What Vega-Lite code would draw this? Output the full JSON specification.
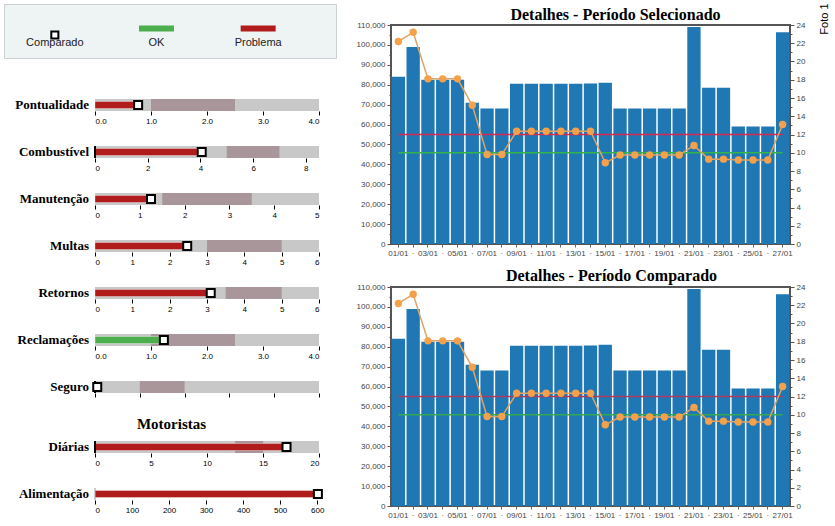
{
  "$schema": "https://vega.github.io/schema/vega-lite/v6.json",
  "background": "white",
  "padding": {"left": 3, "top": 3, "right": 0, "bottom": 0},
  "title": {"text": "Foto 1", "orient": "right", "angle": -90, "anchor": "start", "align": "right", "fontSize": 11, "font": "Liberation Sans", "fontWeight": "normal", "color": "#000", "offset": 6, "dy": -4},
  "datasets": {
    "legenda": [
      {"item": "Comparado"},
      {"item": "OK"},
      {"item": "Problema"}
    ],
    "titulos": [
      {"painel": "selecionado", "titulo": "Detalhes - Período Selecionado"},
      {"painel": "comparado", "titulo": "Detalhes - Período Comparado"}
    ],
    "indicadores": [
      {"indicador": "Pontualidade", "faixa_ini": 0, "faixa_fim": 4, "alerta_ini": 1, "alerta_fim": 2.5, "valor": 0.7, "comparado": 0.77, "status": "Problema"},
      {"indicador": "Combustível", "faixa_ini": 0, "faixa_fim": 8.5, "alerta_ini": 5, "alerta_fim": 7, "valor": 3.95, "comparado": 4.05, "status": "Problema"},
      {"indicador": "Manutenção", "faixa_ini": 0, "faixa_fim": 5, "alerta_ini": 1.5, "alerta_fim": 3.5, "valor": 1.18, "comparado": 1.25, "status": "Problema"},
      {"indicador": "Multas", "faixa_ini": 0, "faixa_fim": 6, "alerta_ini": 3, "alerta_fim": 5, "valor": 2.4, "comparado": 2.47, "status": "Problema"},
      {"indicador": "Retornos", "faixa_ini": 0, "faixa_fim": 6, "alerta_ini": 3.5, "alerta_fim": 5, "valor": 3.03, "comparado": 3.1, "status": "Problema"},
      {"indicador": "Reclamações", "faixa_ini": 0, "faixa_fim": 4, "alerta_ini": 1, "alerta_fim": 2.5, "valor": 1.16, "comparado": 1.23, "status": "OK"},
      {"indicador": "Seguro", "faixa_ini": 0, "faixa_fim": 5, "alerta_ini": 1, "alerta_fim": 2, "valor": 0, "comparado": 0.05, "status": "Problema"},
      {"indicador": "Diárias", "faixa_ini": 0, "faixa_fim": 20, "alerta_ini": 12.5, "alerta_fim": 15, "valor": 16.8, "comparado": 17.1, "status": "Problema"},
      {"indicador": "Alimentação", "faixa_ini": null, "faixa_fim": null, "alerta_ini": null, "alerta_fim": null, "valor": 599, "comparado": 602, "status": "Problema"}
    ],
    "diario": [
      {"dia": "01/01", "valor": 84000, "indice": 22.2, "limite": 12, "meta": 10},
      {"dia": "02/01", "valor": 99000, "indice": 23.2, "limite": 12, "meta": 10},
      {"dia": "03/01", "valor": 82500, "indice": 18.1, "limite": 12, "meta": 10},
      {"dia": "04/01", "valor": 82500, "indice": 18.1, "limite": 12, "meta": 10},
      {"dia": "05/01", "valor": 82500, "indice": 18.1, "limite": 12, "meta": 10},
      {"dia": "06/01", "valor": 71000, "indice": 15.2, "limite": 12, "meta": 10},
      {"dia": "07/01", "valor": 68000, "indice": 9.8, "limite": 12, "meta": 10},
      {"dia": "08/01", "valor": 68000, "indice": 9.8, "limite": 12, "meta": 10},
      {"dia": "09/01", "valor": 80500, "indice": 12.35, "limite": 12, "meta": 10},
      {"dia": "10/01", "valor": 80500, "indice": 12.35, "limite": 12, "meta": 10},
      {"dia": "11/01", "valor": 80500, "indice": 12.35, "limite": 12, "meta": 10},
      {"dia": "12/01", "valor": 80500, "indice": 12.35, "limite": 12, "meta": 10},
      {"dia": "13/01", "valor": 80500, "indice": 12.35, "limite": 12, "meta": 10},
      {"dia": "14/01", "valor": 80600, "indice": 12.35, "limite": 12, "meta": 10},
      {"dia": "15/01", "valor": 81000, "indice": 8.9, "limite": 12, "meta": 10},
      {"dia": "16/01", "valor": 68000, "indice": 9.75, "limite": 12, "meta": 10},
      {"dia": "17/01", "valor": 68000, "indice": 9.75, "limite": 12, "meta": 10},
      {"dia": "18/01", "valor": 68000, "indice": 9.75, "limite": 12, "meta": 10},
      {"dia": "19/01", "valor": 68000, "indice": 9.75, "limite": 12, "meta": 10},
      {"dia": "20/01", "valor": 68000, "indice": 9.75, "limite": 12, "meta": 10},
      {"dia": "21/01", "valor": 109000, "indice": 10.8, "limite": 12, "meta": 10},
      {"dia": "22/01", "valor": 78500, "indice": 9.3, "limite": 12, "meta": 10},
      {"dia": "23/01", "valor": 78500, "indice": 9.3, "limite": 12, "meta": 10},
      {"dia": "24/01", "valor": 59000, "indice": 9.2, "limite": 12, "meta": 10},
      {"dia": "25/01", "valor": 59000, "indice": 9.2, "limite": 12, "meta": 10},
      {"dia": "26/01", "valor": 59000, "indice": 9.2, "limite": 12, "meta": 10},
      {"dia": "27/01", "valor": 106300, "indice": 13.1, "limite": 12, "meta": 10}
    ]
  },
  "config": {
    "view": {"stroke": null},
    "font": "Liberation Sans",
    "axis": {"labelOverlap": false, "labelSeparation": 0},
    "axisY": {"labelOverlap": false},
    "axisRight": {"labelOverlap": false, "labelBound": false},
    "axisX": {"domain": false, "tickColor": "#000", "tickSize": 4, "tickWidth": 1, "labelFontSize": 8, "labelColor": "#000", "labelPadding": 2, "grid": false, "labelFont": "Liberation Sans"}
  },
  "spacing": 9,
  "hconcat": [
    {
      "spacing": 38,
      "vconcat": [
        {
          "width": 332, "height": 54,
          "data": {"name": "legenda"},
          "view": {"fill": "#eef3f4", "stroke": "#c8d0d2"},
          "encoding": {"x": {"field": "item", "type": "nominal", "sort": null, "axis": null, "scale": {"range": [0, 305], "paddingInner": 0, "paddingOuter": 0}}},
          "layer": [
            {"transform": [{"filter": "datum.item === 'Comparado'"}], "mark": {"type": "point", "shape": "square", "filled": true, "fill": "white", "stroke": "black", "strokeWidth": 2, "size": 50, "opacity": 1, "yOffset": 4}},
            {"transform": [{"filter": "datum.item !== 'Comparado'"}], "mark": {"type": "point", "shape": "M-1,-0.17H1V0.17H-1Z", "filled": true, "size": 1225, "opacity": 1, "yOffset": -2.5, "strokeWidth": 0},
             "encoding": {"color": {"field": "item", "type": "nominal", "scale": {"domain": ["OK", "Problema"], "range": ["#4cae4c", "#b01c1c"]}, "legend": null}}},
            {"mark": {"type": "text", "yOffset": 12, "fontSize": 11, "font": "Liberation Sans", "color": "#222"}, "encoding": {"text": {"field": "item"}}}
          ]
        },
        {
          "spacing": 19,
          "vconcat": [
            {
              "width": 315, "height": 12, "data": {"name": "indicadores"},
              "transform": [{"filter": "datum.indicador === 'Pontualidade'"}],
              "layer": [
                {"mark": {"type": "bar", "color": "#c8c8c8"}, "encoding": {"y": {"field": "indicador", "type": "nominal", "axis": null, "scale": {"paddingInner": 0, "paddingOuter": 0}}, "x": {"field": "faixa_ini", "type": "quantitative", "title": null, "scale": {"domain": [0, 4], "nice": false, "range": [91, 315]}, "axis": {"values": [0, 0.5, 1, 1.5, 2, 2.5, 3, 3.5, 4], "format": ".1f"}}, "x2": {"field": "faixa_fim"}}},
                {"mark": {"type": "bar", "color": "#a8969a"}, "encoding": {"y": {"field": "indicador", "type": "nominal"}, "x": {"field": "alerta_ini", "type": "quantitative", "title": null}, "x2": {"field": "alerta_fim"}}},
                {"mark": {"type": "bar", "height": 7, "stroke": "white", "strokeOpacity": 0.35, "strokeWidth": 1}, "encoding": {"y": {"field": "indicador", "type": "nominal"}, "x": {"field": "valor", "type": "quantitative", "title": null}, "color": {"field": "status", "type": "nominal", "scale": {"domain": ["OK", "Problema"], "range": ["#4cae4c", "#b01c1c"]}, "legend": null}}},
                {"mark": {"type": "point", "shape": "square", "filled": true, "fill": "white", "stroke": "black", "strokeWidth": 2, "size": 64, "opacity": 1}, "encoding": {"y": {"field": "indicador", "type": "nominal"}, "x": {"field": "comparado", "type": "quantitative", "title": null}}},
                {"mark": {"type": "text", "align": "right", "dx": -6, "font": "Liberation Serif", "fontWeight": "bold", "fontSize": 13, "color": "#000"}, "encoding": {"y": {"field": "indicador", "type": "nominal"}, "x": {"datum": 0}, "text": {"field": "indicador"}}}
              ]
            },
            {
              "width": 315, "height": 12, "data": {"name": "indicadores"},
              "transform": [{"filter": "datum.indicador === 'Combustível'"}],
              "layer": [
                {"mark": {"type": "bar", "color": "#c8c8c8"}, "encoding": {"y": {"field": "indicador", "type": "nominal", "axis": null, "scale": {"paddingInner": 0, "paddingOuter": 0}}, "x": {"field": "faixa_ini", "type": "quantitative", "title": null, "scale": {"domain": [0, 8.5], "nice": false, "range": [91, 315]}, "axis": {"values": [0, 1, 2, 3, 4, 5, 6, 7, 8], "format": "d"}}, "x2": {"field": "faixa_fim"}}},
                {"mark": {"type": "bar", "color": "#a8969a"}, "encoding": {"y": {"field": "indicador", "type": "nominal"}, "x": {"field": "alerta_ini", "type": "quantitative", "title": null}, "x2": {"field": "alerta_fim"}}},
                {"mark": {"type": "bar", "height": 7, "stroke": "white", "strokeOpacity": 0.35, "strokeWidth": 1}, "encoding": {"y": {"field": "indicador", "type": "nominal"}, "x": {"field": "valor", "type": "quantitative", "title": null}, "color": {"field": "status", "type": "nominal", "scale": {"domain": ["OK", "Problema"], "range": ["#4cae4c", "#b01c1c"]}, "legend": null}}},
                {"mark": {"type": "rule", "color": "#000", "strokeWidth": 2}, "encoding": {"x": {"datum": 0}}},
                {"mark": {"type": "point", "shape": "square", "filled": true, "fill": "white", "stroke": "black", "strokeWidth": 2, "size": 64, "opacity": 1}, "encoding": {"y": {"field": "indicador", "type": "nominal"}, "x": {"field": "comparado", "type": "quantitative", "title": null}}},
                {"mark": {"type": "text", "align": "right", "dx": -6, "font": "Liberation Serif", "fontWeight": "bold", "fontSize": 13, "color": "#000"}, "encoding": {"y": {"field": "indicador", "type": "nominal"}, "x": {"datum": 0}, "text": {"field": "indicador"}}}
              ]
            },
            {
              "width": 315, "height": 12, "data": {"name": "indicadores"},
              "transform": [{"filter": "datum.indicador === 'Manutenção'"}],
              "layer": [
                {"mark": {"type": "bar", "color": "#c8c8c8"}, "encoding": {"y": {"field": "indicador", "type": "nominal", "axis": null, "scale": {"paddingInner": 0, "paddingOuter": 0}}, "x": {"field": "faixa_ini", "type": "quantitative", "title": null, "scale": {"domain": [0, 5], "nice": false, "range": [91, 315]}, "axis": {"values": [0, 1, 2, 3, 4, 5], "format": "d"}}, "x2": {"field": "faixa_fim"}}},
                {"mark": {"type": "bar", "color": "#a8969a"}, "encoding": {"y": {"field": "indicador", "type": "nominal"}, "x": {"field": "alerta_ini", "type": "quantitative", "title": null}, "x2": {"field": "alerta_fim"}}},
                {"mark": {"type": "bar", "height": 7, "stroke": "white", "strokeOpacity": 0.35, "strokeWidth": 1}, "encoding": {"y": {"field": "indicador", "type": "nominal"}, "x": {"field": "valor", "type": "quantitative", "title": null}, "color": {"field": "status", "type": "nominal", "scale": {"domain": ["OK", "Problema"], "range": ["#4cae4c", "#b01c1c"]}, "legend": null}}},
                {"mark": {"type": "point", "shape": "square", "filled": true, "fill": "white", "stroke": "black", "strokeWidth": 2, "size": 64, "opacity": 1}, "encoding": {"y": {"field": "indicador", "type": "nominal"}, "x": {"field": "comparado", "type": "quantitative", "title": null}}},
                {"mark": {"type": "text", "align": "right", "dx": -6, "font": "Liberation Serif", "fontWeight": "bold", "fontSize": 13, "color": "#000"}, "encoding": {"y": {"field": "indicador", "type": "nominal"}, "x": {"datum": 0}, "text": {"field": "indicador"}}}
              ]
            },
            {
              "width": 315, "height": 12, "data": {"name": "indicadores"},
              "transform": [{"filter": "datum.indicador === 'Multas'"}],
              "layer": [
                {"mark": {"type": "bar", "color": "#c8c8c8"}, "encoding": {"y": {"field": "indicador", "type": "nominal", "axis": null, "scale": {"paddingInner": 0, "paddingOuter": 0}}, "x": {"field": "faixa_ini", "type": "quantitative", "title": null, "scale": {"domain": [0, 6], "nice": false, "range": [91, 315]}, "axis": {"values": [0, 1, 2, 3, 4, 5, 6], "format": "d"}}, "x2": {"field": "faixa_fim"}}},
                {"mark": {"type": "bar", "color": "#a8969a"}, "encoding": {"y": {"field": "indicador", "type": "nominal"}, "x": {"field": "alerta_ini", "type": "quantitative", "title": null}, "x2": {"field": "alerta_fim"}}},
                {"mark": {"type": "bar", "height": 7, "stroke": "white", "strokeOpacity": 0.35, "strokeWidth": 1}, "encoding": {"y": {"field": "indicador", "type": "nominal"}, "x": {"field": "valor", "type": "quantitative", "title": null}, "color": {"field": "status", "type": "nominal", "scale": {"domain": ["OK", "Problema"], "range": ["#4cae4c", "#b01c1c"]}, "legend": null}}},
                {"mark": {"type": "point", "shape": "square", "filled": true, "fill": "white", "stroke": "black", "strokeWidth": 2, "size": 64, "opacity": 1}, "encoding": {"y": {"field": "indicador", "type": "nominal"}, "x": {"field": "comparado", "type": "quantitative", "title": null}}},
                {"mark": {"type": "text", "align": "right", "dx": -6, "font": "Liberation Serif", "fontWeight": "bold", "fontSize": 13, "color": "#000"}, "encoding": {"y": {"field": "indicador", "type": "nominal"}, "x": {"datum": 0}, "text": {"field": "indicador"}}}
              ]
            },
            {
              "width": 315, "height": 12, "data": {"name": "indicadores"},
              "transform": [{"filter": "datum.indicador === 'Retornos'"}],
              "layer": [
                {"mark": {"type": "bar", "color": "#c8c8c8"}, "encoding": {"y": {"field": "indicador", "type": "nominal", "axis": null, "scale": {"paddingInner": 0, "paddingOuter": 0}}, "x": {"field": "faixa_ini", "type": "quantitative", "title": null, "scale": {"domain": [0, 6], "nice": false, "range": [91, 315]}, "axis": {"values": [0, 1, 2, 3, 4, 5, 6], "format": "d"}}, "x2": {"field": "faixa_fim"}}},
                {"mark": {"type": "bar", "color": "#a8969a"}, "encoding": {"y": {"field": "indicador", "type": "nominal"}, "x": {"field": "alerta_ini", "type": "quantitative", "title": null}, "x2": {"field": "alerta_fim"}}},
                {"mark": {"type": "bar", "height": 7, "stroke": "white", "strokeOpacity": 0.35, "strokeWidth": 1}, "encoding": {"y": {"field": "indicador", "type": "nominal"}, "x": {"field": "valor", "type": "quantitative", "title": null}, "color": {"field": "status", "type": "nominal", "scale": {"domain": ["OK", "Problema"], "range": ["#4cae4c", "#b01c1c"]}, "legend": null}}},
                {"mark": {"type": "point", "shape": "square", "filled": true, "fill": "white", "stroke": "black", "strokeWidth": 2, "size": 64, "opacity": 1}, "encoding": {"y": {"field": "indicador", "type": "nominal"}, "x": {"field": "comparado", "type": "quantitative", "title": null}}},
                {"mark": {"type": "text", "align": "right", "dx": -6, "font": "Liberation Serif", "fontWeight": "bold", "fontSize": 13, "color": "#000"}, "encoding": {"y": {"field": "indicador", "type": "nominal"}, "x": {"datum": 0}, "text": {"field": "indicador"}}}
              ]
            },
            {
              "width": 315, "height": 12, "data": {"name": "indicadores"},
              "transform": [{"filter": "datum.indicador === 'Reclamações'"}],
              "layer": [
                {"mark": {"type": "bar", "color": "#c8c8c8"}, "encoding": {"y": {"field": "indicador", "type": "nominal", "axis": null, "scale": {"paddingInner": 0, "paddingOuter": 0}}, "x": {"field": "faixa_ini", "type": "quantitative", "title": null, "scale": {"domain": [0, 4], "nice": false, "range": [91, 315]}, "axis": {"values": [0, 0.5, 1, 1.5, 2, 2.5, 3, 3.5, 4], "format": ".1f"}}, "x2": {"field": "faixa_fim"}}},
                {"mark": {"type": "bar", "color": "#a8969a"}, "encoding": {"y": {"field": "indicador", "type": "nominal"}, "x": {"field": "alerta_ini", "type": "quantitative", "title": null}, "x2": {"field": "alerta_fim"}}},
                {"mark": {"type": "bar", "height": 7, "stroke": "white", "strokeOpacity": 0.35, "strokeWidth": 1}, "encoding": {"y": {"field": "indicador", "type": "nominal"}, "x": {"field": "valor", "type": "quantitative", "title": null}, "color": {"field": "status", "type": "nominal", "scale": {"domain": ["OK", "Problema"], "range": ["#4cae4c", "#b01c1c"]}, "legend": null}}},
                {"mark": {"type": "point", "shape": "square", "filled": true, "fill": "white", "stroke": "black", "strokeWidth": 2, "size": 64, "opacity": 1}, "encoding": {"y": {"field": "indicador", "type": "nominal"}, "x": {"field": "comparado", "type": "quantitative", "title": null}}},
                {"mark": {"type": "text", "align": "right", "dx": -6, "font": "Liberation Serif", "fontWeight": "bold", "fontSize": 13, "color": "#000"}, "encoding": {"y": {"field": "indicador", "type": "nominal"}, "x": {"datum": 0}, "text": {"field": "indicador"}}}
              ]
            },
            {
              "width": 315, "height": 12, "data": {"name": "indicadores"},
              "transform": [{"filter": "datum.indicador === 'Seguro'"}],
              "layer": [
                {"mark": {"type": "bar", "color": "#c8c8c8"}, "encoding": {"y": {"field": "indicador", "type": "nominal", "axis": null, "scale": {"paddingInner": 0, "paddingOuter": 0}}, "x": {"field": "faixa_ini", "type": "quantitative", "title": null, "scale": {"domain": [0, 5], "nice": false, "range": [91, 315]}, "axis": {"values": [0, 1, 2, 3, 4, 5], "labels": false}}, "x2": {"field": "faixa_fim"}}},
                {"mark": {"type": "bar", "color": "#a8969a"}, "encoding": {"y": {"field": "indicador", "type": "nominal"}, "x": {"field": "alerta_ini", "type": "quantitative", "title": null}, "x2": {"field": "alerta_fim"}}},
                {"mark": {"type": "bar", "height": 7, "stroke": "white", "strokeOpacity": 0.35, "strokeWidth": 1}, "encoding": {"y": {"field": "indicador", "type": "nominal"}, "x": {"field": "valor", "type": "quantitative", "title": null}, "color": {"field": "status", "type": "nominal", "scale": {"domain": ["OK", "Problema"], "range": ["#4cae4c", "#b01c1c"]}, "legend": null}}},
                {"mark": {"type": "rule", "color": "#000", "strokeWidth": 2}, "encoding": {"x": {"datum": 0}}},
                {"mark": {"type": "point", "shape": "square", "filled": true, "fill": "white", "stroke": "black", "strokeWidth": 2, "size": 64, "opacity": 1}, "encoding": {"y": {"field": "indicador", "type": "nominal"}, "x": {"field": "comparado", "type": "quantitative", "title": null}}},
                {"mark": {"type": "text", "align": "right", "dx": -6, "font": "Liberation Serif", "fontWeight": "bold", "fontSize": 13, "color": "#000"}, "encoding": {"y": {"field": "indicador", "type": "nominal"}, "x": {"datum": 0}, "text": {"field": "indicador"}}}
              ]
            },
            {
              "width": 315, "height": 12, "data": {"name": "indicadores"},
              "title": {"text": "Motoristas", "font": "Liberation Serif", "fontSize": 15, "fontWeight": "bold", "color": "#000", "anchor": "middle", "frame": "group", "offset": 7, "dx": 10},
              "transform": [{"filter": "datum.indicador === 'Diárias'"}],
              "layer": [
                {"mark": {"type": "bar", "color": "#c8c8c8"}, "encoding": {"y": {"field": "indicador", "type": "nominal", "axis": null, "scale": {"paddingInner": 0, "paddingOuter": 0}}, "x": {"field": "faixa_ini", "type": "quantitative", "title": null, "scale": {"domain": [0, 20], "nice": false, "range": [91, 315]}, "axis": {"values": [0, 5, 10, 15, 20], "format": "d"}}, "x2": {"field": "faixa_fim"}}},
                {"mark": {"type": "bar", "color": "#a8969a"}, "encoding": {"y": {"field": "indicador", "type": "nominal"}, "x": {"field": "alerta_ini", "type": "quantitative", "title": null}, "x2": {"field": "alerta_fim"}}},
                {"mark": {"type": "bar", "height": 7, "stroke": "white", "strokeOpacity": 0.35, "strokeWidth": 1}, "encoding": {"y": {"field": "indicador", "type": "nominal"}, "x": {"field": "valor", "type": "quantitative", "title": null}, "color": {"field": "status", "type": "nominal", "scale": {"domain": ["OK", "Problema"], "range": ["#4cae4c", "#b01c1c"]}, "legend": null}}},
                {"mark": {"type": "rule", "color": "#000", "strokeWidth": 2}, "encoding": {"x": {"datum": 0}}},
                {"mark": {"type": "point", "shape": "square", "filled": true, "fill": "white", "stroke": "black", "strokeWidth": 2, "size": 64, "opacity": 1}, "encoding": {"y": {"field": "indicador", "type": "nominal"}, "x": {"field": "comparado", "type": "quantitative", "title": null}}},
                {"mark": {"type": "text", "align": "right", "dx": -6, "font": "Liberation Serif", "fontWeight": "bold", "fontSize": 13, "color": "#000"}, "encoding": {"y": {"field": "indicador", "type": "nominal"}, "x": {"datum": 0}, "text": {"field": "indicador"}}}
              ]
            },
            {
              "width": 315, "height": 12, "data": {"name": "indicadores"},
              "transform": [{"filter": "datum.indicador === 'Alimentação'"}],
              "layer": [
                {"mark": {"type": "bar", "height": 7, "stroke": "white", "strokeOpacity": 0.35, "strokeWidth": 1}, "encoding": {"y": {"field": "indicador", "type": "nominal", "axis": null, "scale": {"paddingInner": 0, "paddingOuter": 0}}, "x": {"field": "valor", "type": "quantitative", "title": null, "scale": {"domain": [0, 605], "nice": false, "range": [91, 315]}, "axis": {"values": [0, 100, 200, 300, 400, 500, 600], "format": "d"}}, "color": {"field": "status", "type": "nominal", "scale": {"domain": ["OK", "Problema"], "range": ["#4cae4c", "#b01c1c"]}, "legend": null}}},
                {"mark": {"type": "rule", "color": "#999", "strokeWidth": 1}, "encoding": {"x": {"datum": 0}}},
                {"mark": {"type": "point", "shape": "square", "filled": true, "fill": "white", "stroke": "black", "strokeWidth": 2, "size": 64, "opacity": 1}, "encoding": {"y": {"field": "indicador", "type": "nominal"}, "x": {"field": "comparado", "type": "quantitative", "title": null}}},
                {"mark": {"type": "text", "align": "right", "dx": -6, "font": "Liberation Serif", "fontWeight": "bold", "fontSize": 13, "color": "#000"}, "encoding": {"y": {"field": "indicador", "type": "nominal"}, "x": {"datum": 0}, "text": {"field": "indicador"}}}
              ]
            }
          ]
        }
      ]
    },
    {
      "spacing": 7,
      "vconcat": [
        {
          "spacing": -3,
          "vconcat": [
            {
              "width": 399, "height": 11,
              "data": {"name": "titulos"},
              "transform": [{"filter": "datum.painel === 'selecionado'"}],
              "mark": {"type": "text", "font": "Liberation Serif", "fontSize": 16, "fontWeight": "bold", "color": "#000", "dx": 25, "dy": 5},
              "encoding": {"text": {"field": "titulo"}}
            },
            {
              "width": 399, "height": 219,
              "view": {"stroke": "#555", "strokeWidth": 2},
              "data": {"name": "diario"},
              "encoding": {"x": {"field": "dia", "type": "ordinal", "title": null, "scale": {"paddingInner": 0.1, "paddingOuter": 0.05},
                "axis": {"labelAngle": 0, "labelOverlap": false, "tickSize": 3, "tickColor": "#666", "labelColor": "#444", "labelFontSize": 8, "labelPadding": 2, "domain": false,
                         "labelExpr": "toNumber(substring(datum.value, 0, 2)) % 2 === 1 ? datum.value : '·'"}}},
              "layer": [
                {"mark": {"type": "bar", "color": "#1f77b4"},
                 "encoding": {"y": {"field": "valor", "type": "quantitative", "title": null, "scale": {"domain": [0, 110000], "nice": false},
                   "axis": {"orient": "left", "values": [0, 5000, 10000, 15000, 20000, 25000, 30000, 35000, 40000, 45000, 50000, 55000, 60000, 65000, 70000, 75000, 80000, 85000, 90000, 95000, 100000, 105000, 110000],
                            "labelOverlap": false, "labelExpr": "datum.value % 10000 === 0 ? format(datum.value, ',') : ''", "tickSize": {"condition": {"test": "datum.value % 10000 === 0", "value": 4}, "value": 2},
                            "domain": false, "grid": false, "labelFontSize": 8, "labelColor": "#444", "tickColor": "#555", "labelPadding": 2, "minExtent": 44, "maxExtent": 44}}}},
                {"layer": [
                  {"mark": {"type": "line", "color": "#d6284c", "strokeWidth": 1.5},
                   "encoding": {"y": {"field": "limite", "type": "quantitative", "title": null, "scale": {"domain": [0, 24], "nice": false},
                     "axis": {"orient": "right", "values": [0, 1, 2, 3, 4, 5, 6, 7, 8, 9, 10, 11, 12, 13, 14, 15, 16, 17, 18, 19, 20, 21, 22, 23, 24], "labelExpr": "datum.value % 2 === 0 ? format(datum.value, 'd') : ''", "tickSize": {"condition": {"test": "datum.value % 2 === 0", "value": 4}, "value": 2}, "labelOverlap": false, "domain": false, "grid": false, "labelFontSize": 8, "labelColor": "#444", "tickColor": "#555", "labelPadding": 2}}}},
                  {"mark": {"type": "line", "color": "#33b34a", "strokeWidth": 1.5},
                   "encoding": {"y": {"field": "meta", "type": "quantitative", "title": null,
                     "axis": {"orient": "right", "values": [0, 1, 2, 3, 4, 5, 6, 7, 8, 9, 10, 11, 12, 13, 14, 15, 16, 17, 18, 19, 20, 21, 22, 23, 24], "labelExpr": "datum.value % 2 === 0 ? format(datum.value, 'd') : ''", "tickSize": {"condition": {"test": "datum.value % 2 === 0", "value": 4}, "value": 2}, "labelOverlap": false, "domain": false, "grid": false, "labelFontSize": 8, "labelColor": "#444", "tickColor": "#555", "labelPadding": 2}}}},
                  {"mark": {"type": "line", "color": "#e0a366", "strokeWidth": 1.5},
                   "encoding": {"y": {"field": "indice", "type": "quantitative", "title": null,
                     "axis": {"orient": "right", "values": [0, 1, 2, 3, 4, 5, 6, 7, 8, 9, 10, 11, 12, 13, 14, 15, 16, 17, 18, 19, 20, 21, 22, 23, 24], "labelExpr": "datum.value % 2 === 0 ? format(datum.value, 'd') : ''", "tickSize": {"condition": {"test": "datum.value % 2 === 0", "value": 4}, "value": 2}, "labelOverlap": false, "domain": false, "grid": false, "labelFontSize": 8, "labelColor": "#444", "tickColor": "#555", "labelPadding": 2}}}},
                  {"mark": {"type": "point", "filled": true, "color": "#f5a04a", "size": 55, "opacity": 1},
                   "encoding": {"y": {"field": "indice", "type": "quantitative", "title": null,
                     "axis": {"orient": "right", "values": [0, 1, 2, 3, 4, 5, 6, 7, 8, 9, 10, 11, 12, 13, 14, 15, 16, 17, 18, 19, 20, 21, 22, 23, 24], "labelExpr": "datum.value % 2 === 0 ? format(datum.value, 'd') : ''", "tickSize": {"condition": {"test": "datum.value % 2 === 0", "value": 4}, "value": 2}, "labelOverlap": false, "domain": false, "grid": false, "labelFontSize": 8, "labelColor": "#444", "tickColor": "#555", "labelPadding": 2}}}}
                ]}
              ],
              "resolve": {"scale": {"y": "independent"}}
            }
          ]
        },
        {
          "spacing": -2,
          "vconcat": [
            {
              "width": 399, "height": 13,
              "data": {"name": "titulos"},
              "transform": [{"filter": "datum.painel === 'comparado'"}],
              "mark": {"type": "text", "font": "Liberation Serif", "fontSize": 16, "fontWeight": "bold", "color": "#000", "dx": 21, "dy": 4},
              "encoding": {"text": {"field": "titulo"}}
            },
            {
              "width": 399, "height": 219,
              "view": {"stroke": "#555", "strokeWidth": 2},
              "data": {"name": "diario"},
              "encoding": {"x": {"field": "dia", "type": "ordinal", "title": null, "scale": {"paddingInner": 0.1, "paddingOuter": 0.05},
                "axis": {"labelAngle": 0, "labelOverlap": false, "tickSize": 3, "tickColor": "#666", "labelColor": "#444", "labelFontSize": 8, "labelPadding": 2, "domain": false,
                         "labelExpr": "toNumber(substring(datum.value, 0, 2)) % 2 === 1 ? datum.value : '·'"}}},
              "layer": [
                {"mark": {"type": "bar", "color": "#1f77b4"},
                 "encoding": {"y": {"field": "valor", "type": "quantitative", "title": null, "scale": {"domain": [0, 110000], "nice": false},
                   "axis": {"orient": "left", "values": [0, 5000, 10000, 15000, 20000, 25000, 30000, 35000, 40000, 45000, 50000, 55000, 60000, 65000, 70000, 75000, 80000, 85000, 90000, 95000, 100000, 105000, 110000],
                            "labelOverlap": false, "labelExpr": "datum.value % 10000 === 0 ? format(datum.value, ',') : ''", "tickSize": {"condition": {"test": "datum.value % 10000 === 0", "value": 4}, "value": 2},
                            "domain": false, "grid": false, "labelFontSize": 8, "labelColor": "#444", "tickColor": "#555", "labelPadding": 2, "minExtent": 44, "maxExtent": 44}}}},
                {"layer": [
                  {"mark": {"type": "line", "color": "#b03a5c", "strokeWidth": 1.5},
                   "encoding": {"y": {"field": "limite", "type": "quantitative", "title": null, "scale": {"domain": [0, 24], "nice": false},
                     "axis": {"orient": "right", "values": [0, 1, 2, 3, 4, 5, 6, 7, 8, 9, 10, 11, 12, 13, 14, 15, 16, 17, 18, 19, 20, 21, 22, 23, 24], "labelExpr": "datum.value % 2 === 0 ? format(datum.value, 'd') : ''", "tickSize": {"condition": {"test": "datum.value % 2 === 0", "value": 4}, "value": 2}, "labelOverlap": false, "domain": false, "grid": false, "labelFontSize": 8, "labelColor": "#444", "tickColor": "#555", "labelPadding": 2}}}},
                  {"mark": {"type": "line", "color": "#33a852", "strokeWidth": 1.5},
                   "encoding": {"y": {"field": "meta", "type": "quantitative", "title": null,
                     "axis": {"orient": "right", "values": [0, 1, 2, 3, 4, 5, 6, 7, 8, 9, 10, 11, 12, 13, 14, 15, 16, 17, 18, 19, 20, 21, 22, 23, 24], "labelExpr": "datum.value % 2 === 0 ? format(datum.value, 'd') : ''", "tickSize": {"condition": {"test": "datum.value % 2 === 0", "value": 4}, "value": 2}, "labelOverlap": false, "domain": false, "grid": false, "labelFontSize": 8, "labelColor": "#444", "tickColor": "#555", "labelPadding": 2}}}},
                  {"mark": {"type": "line", "color": "#e0a366", "strokeWidth": 1.5},
                   "encoding": {"y": {"field": "indice", "type": "quantitative", "title": null,
                     "axis": {"orient": "right", "values": [0, 1, 2, 3, 4, 5, 6, 7, 8, 9, 10, 11, 12, 13, 14, 15, 16, 17, 18, 19, 20, 21, 22, 23, 24], "labelExpr": "datum.value % 2 === 0 ? format(datum.value, 'd') : ''", "tickSize": {"condition": {"test": "datum.value % 2 === 0", "value": 4}, "value": 2}, "labelOverlap": false, "domain": false, "grid": false, "labelFontSize": 8, "labelColor": "#444", "tickColor": "#555", "labelPadding": 2}}}},
                  {"mark": {"type": "point", "filled": true, "color": "#f5a04a", "size": 55, "opacity": 1},
                   "encoding": {"y": {"field": "indice", "type": "quantitative", "title": null,
                     "axis": {"orient": "right", "values": [0, 1, 2, 3, 4, 5, 6, 7, 8, 9, 10, 11, 12, 13, 14, 15, 16, 17, 18, 19, 20, 21, 22, 23, 24], "labelExpr": "datum.value % 2 === 0 ? format(datum.value, 'd') : ''", "tickSize": {"condition": {"test": "datum.value % 2 === 0", "value": 4}, "value": 2}, "labelOverlap": false, "domain": false, "grid": false, "labelFontSize": 8, "labelColor": "#444", "tickColor": "#555", "labelPadding": 2}}}}
                ]}
              ],
              "resolve": {"scale": {"y": "independent"}}
            }
          ]
        }
      ]
    }
  ]
}
